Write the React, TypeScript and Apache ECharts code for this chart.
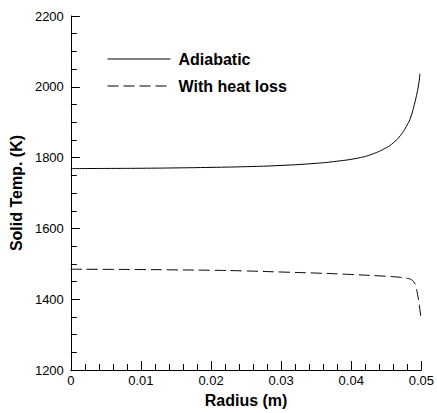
import React, { useEffect, useRef } from "react";
import * as echarts from "echarts";

const adiabaticR = [0, 0.005, 0.01, 0.015, 0.02, 0.025, 0.03, 0.035, 0.038, 0.041, 0.043, 0.045, 0.046, 0.047, 0.048, 0.0485, 0.049, 0.0493, 0.0496, 0.0498];
const adiabaticT = [1769, 1769.5, 1770, 1771, 1772.5, 1774.5, 1778, 1784, 1790, 1799, 1810, 1828, 1842, 1862, 1893, 1915, 1950, 1975, 2005, 2037];

const heatLossR = [0, 0.005, 0.01, 0.015, 0.02, 0.025, 0.03, 0.035, 0.04, 0.045, 0.047, 0.048, 0.0486, 0.049, 0.0492, 0.0494, 0.0496, 0.0498, 0.04995];
const heatLossT = [1485, 1484.5, 1484, 1483, 1482, 1480, 1477, 1474, 1470, 1465, 1462, 1459, 1455, 1447, 1436, 1420, 1398, 1370, 1344];

const xTicks = [0, 0.01, 0.02, 0.03, 0.04, 0.05];
const yTicks = [1200, 1400, 1600, 1800, 2000, 2200];

const seriesNames = ["Adiabatic", "With heat loss"];

export default function App() {
  const ref = useRef<HTMLDivElement>(null);
  useEffect(() => {
    if (!ref.current) return;
    const chart = echarts.init(ref.current, null, { renderer: "svg" });
    const font = "'Liberation Sans', Arial, sans-serif";
    chart.setOption({
      animation: false,
      backgroundColor: "#ffffff",
      textStyle: { fontFamily: font },
      grid: { left: 70, right: 14, top: 16, bottom: 36, containLabel: false },
      legend: {
        orient: "vertical",
        left: 102,
        top: 46,
        padding: 5,
        itemWidth: 63,
        itemHeight: 14,
        itemGap: 11,
        data: seriesNames,
        itemStyle: { opacity: 0 },
        lineStyle: { width: 1 },
        textStyle: { fontFamily: font, fontSize: 16, fontWeight: "bold", color: "#000", padding: [0, 0, 0, 3] },
      },
      xAxis: {
        type: "value",
        min: xTicks[0],
        max: xTicks[xTicks.length - 1],
        interval: 0.01,
        name: "Radius (m)",
        nameLocation: "middle",
        nameGap: 26,
        nameTextStyle: { fontFamily: font, fontSize: 16, fontWeight: "bold", color: "#000", verticalAlign: "middle" },
        axisLine: { show: true, lineStyle: { color: "#000", width: 1 } },
        axisTick: { show: true, inside: true, length: 9, lineStyle: { color: "#000" } },
        minorTick: { show: true, splitNumber: 5, length: 6, lineStyle: { color: "#000" } },
        splitLine: { show: false },
        axisLabel: {
          fontFamily: font,
          fontSize: 13,
          color: "#000",
          margin: 4,
          formatter: (v: number) => (Math.abs(v) < 1e-9 ? "0" : v.toFixed(2)),
        },
      },
      yAxis: {
        type: "value",
        min: yTicks[0],
        max: yTicks[yTicks.length - 1],
        interval: 200,
        name: "Solid Temp. (K)",
        nameLocation: "middle",
        nameGap: 52,
        nameRotate: 90,
        nameTextStyle: { fontFamily: font, fontSize: 16, fontWeight: "bold", color: "#000", verticalAlign: "middle" },
        axisLine: { show: true, lineStyle: { color: "#000", width: 1 } },
        axisTick: { show: true, inside: true, length: 9, lineStyle: { color: "#000" } },
        minorTick: { show: true, splitNumber: 4, length: 6, lineStyle: { color: "#000" } },
        splitLine: { show: false },
        axisLabel: { fontFamily: font, fontSize: 13, color: "#000", margin: 7, formatter: (v: number) => String(v) },
      },
      series: [
        {
          name: seriesNames[0],
          type: "line",
          smooth: true,
          symbol: "circle",
          showSymbol: false,
          data: adiabaticR.map((r, i) => [r, adiabaticT[i]]),
          lineStyle: { color: "#000", width: 1, type: "solid" },
          itemStyle: { color: "#000" },
        },
        {
          name: seriesNames[1],
          type: "line",
          smooth: true,
          symbol: "circle",
          showSymbol: false,
          data: heatLossR.map((r, i) => [r, heatLossT[i]]),
          lineStyle: { color: "#000", width: 1, type: [11, 5] },
          itemStyle: { color: "#000" },
        },
      ],
    });
    return () => chart.dispose();
  }, []);
  return <div ref={ref} style={{ width: 437, height: 413, position: "absolute", left: 0, top: 0 }} />;
}
